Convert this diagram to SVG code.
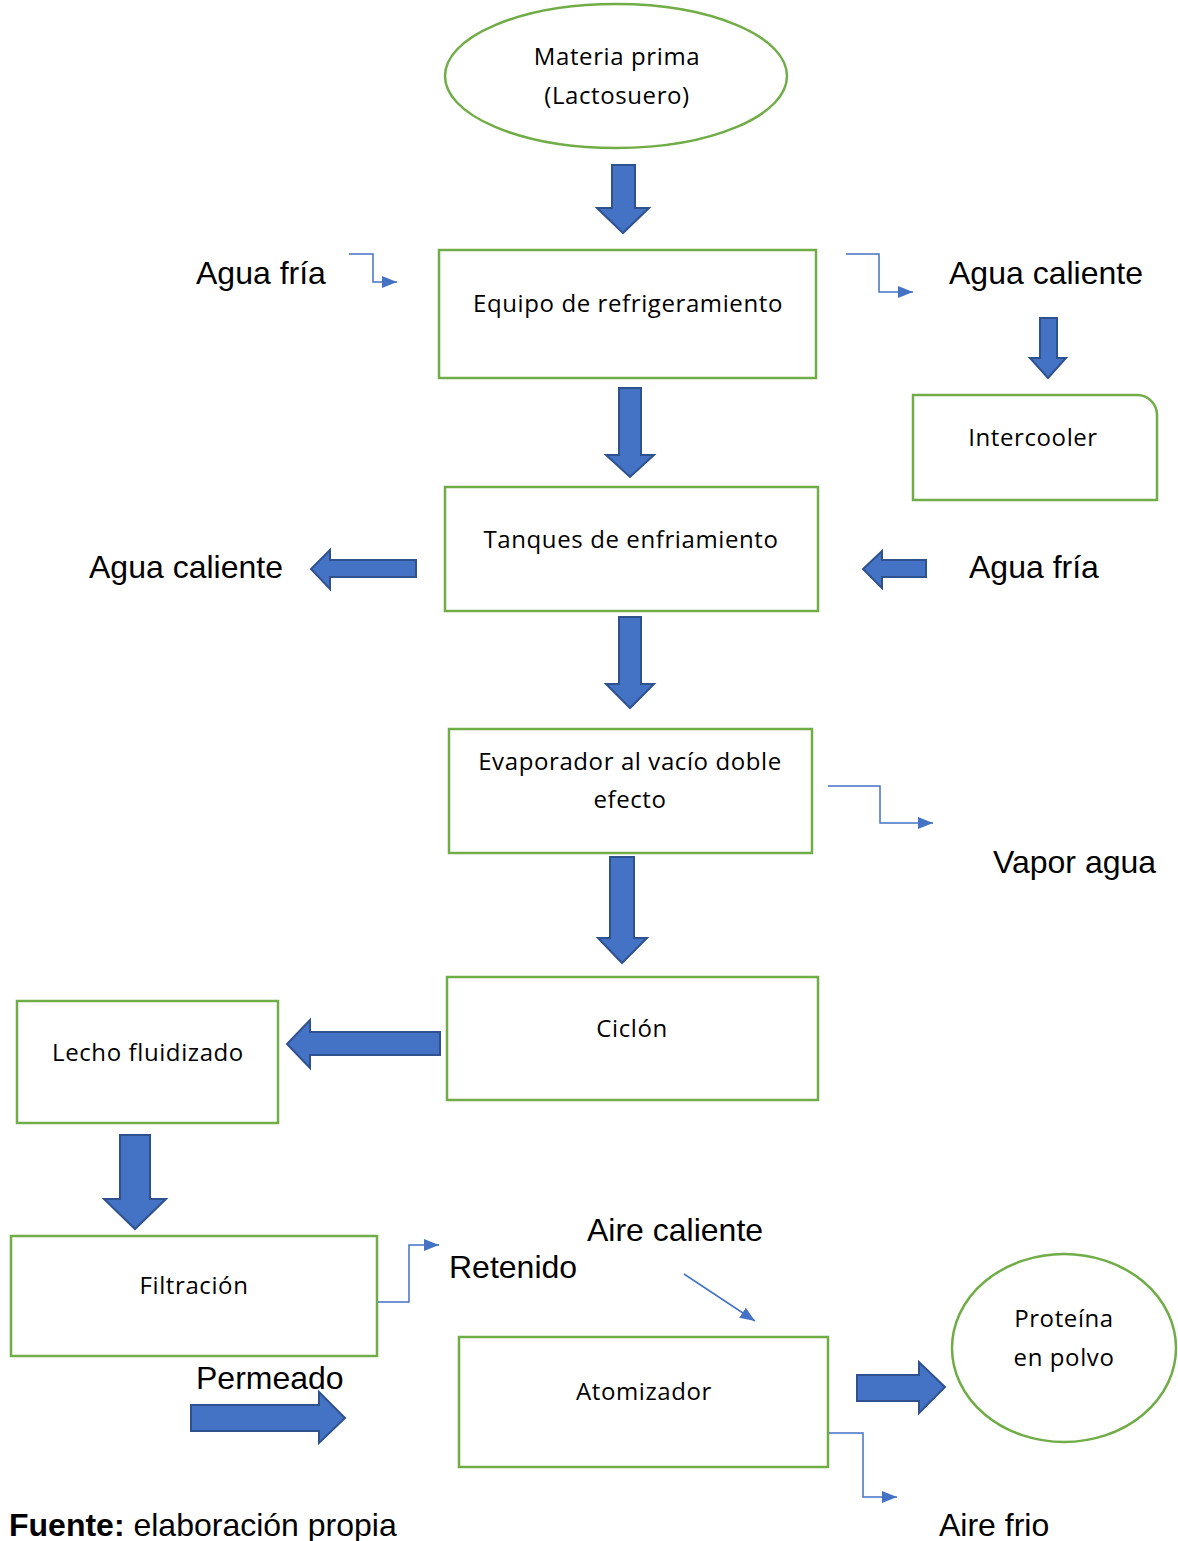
<svg xmlns="http://www.w3.org/2000/svg" width="1178" height="1541" viewBox="0 0 1178 1541">
  <style>
    .box { fill: #ffffff; stroke: #70ad47; stroke-width: 2.5; }
    .blk { fill: #4472c4; stroke: #2f528f; stroke-width: 2; stroke-linejoin: miter; }
    .ln { fill: none; stroke: #4472c4; stroke-width: 1.5; }
    .nt { font-family: "Open Sans", "Noto Sans", sans-serif; font-size: 24px; letter-spacing: 0.6px; fill: #000; text-anchor: middle; }
    .lb { font-family: "Liberation Sans", Arial, sans-serif; font-size: 32px; fill: #000; }
  </style>
  <defs>
    <marker id="tri" viewBox="0 0 15 12" refX="15" refY="6" markerWidth="15" markerHeight="12" markerUnits="userSpaceOnUse" orient="auto">
      <path d="M0,0 L15,6 L0,12 z" fill="#4472c4"/>
    </marker>
  </defs>

  <!-- process nodes -->
  <g id="materia-prima">
    <ellipse class="box" cx="616" cy="76" rx="171" ry="72"/>
    <text class="nt" x="617" y="65">Materia prima</text>
    <text class="nt" x="617" y="104">(Lactosuero)</text>
  </g>
  <g id="equipo-refrigeramiento">
    <rect class="box" x="439" y="250" width="377" height="128"/>
    <text class="nt" x="628" y="312">Equipo de refrigeramiento</text>
  </g>
  <g id="intercooler">
    <path class="box" d="M913,395 H1137 A20,20 0 0 1 1157,415 V500 H913 Z"/>
    <text class="nt" x="1033" y="446">Intercooler</text>
  </g>
  <g id="tanques-enfriamiento">
    <rect class="box" x="445" y="487" width="373" height="124"/>
    <text class="nt" x="631" y="548">Tanques de enfriamiento</text>
  </g>
  <g id="evaporador">
    <rect class="box" x="449" y="729" width="363" height="124"/>
    <text class="nt" x="630" y="770">Evaporador al vacío doble</text>
    <text class="nt" x="630" y="808">efecto</text>
  </g>
  <g id="ciclon">
    <rect class="box" x="447" y="977" width="371" height="123"/>
    <text class="nt" x="632" y="1037">Ciclón</text>
  </g>
  <g id="lecho-fluidizado">
    <rect class="box" x="17" y="1001" width="261" height="122"/>
    <text class="nt" x="148" y="1061">Lecho fluidizado</text>
  </g>
  <g id="filtracion">
    <rect class="box" x="11" y="1236" width="366" height="120"/>
    <text class="nt" x="194" y="1294">Filtración</text>
  </g>
  <g id="atomizador">
    <rect class="box" x="459" y="1337" width="369" height="130"/>
    <text class="nt" x="644" y="1400">Atomizador</text>
  </g>
  <g id="proteina-polvo">
    <ellipse class="box" cx="1064" cy="1348" rx="112" ry="94"/>
    <text class="nt" x="1064" y="1327">Proteína</text>
    <text class="nt" x="1064" y="1366">en polvo</text>
  </g>

  <!-- stream labels -->
  <g id="labels">
    <text class="lb" x="196" y="284">Agua fría</text>
    <text class="lb" x="949" y="284">Agua caliente</text>
    <text class="lb" x="89" y="578">Agua caliente</text>
    <text class="lb" x="969" y="578">Agua fría</text>
    <text class="lb" x="993" y="873">Vapor agua</text>
    <text class="lb" x="587" y="1241">Aire caliente</text>
    <text class="lb" x="449" y="1278">Retenido</text>
    <text class="lb" x="196" y="1389">Permeado</text>
    <text class="lb" x="939" y="1536">Aire frio</text>
    <text class="lb" x="9" y="1536"><tspan font-weight="bold">Fuente:</tspan> elaboración propia</text>
  </g>

  <!-- connectors -->
  <g id="connectors">
    <!-- block arrows -->
    <path class="blk" d="M612,165 H635 V208 H649 L623,233 L597,208 H612 Z"/>
    <path class="blk" d="M1040,318 H1057 V358 H1066 L1048,378 L1030,358 H1040 Z"/>
    <path class="blk" d="M619,388 H641 V455 H654 L630,477 L606,455 H619 Z"/>
    <path class="blk" d="M416,560 V577 H330 V589 L311,569 L330,550 V560 Z"/>
    <path class="blk" d="M926,560 V577 H882 V588 L863,569 L882,551 V560 Z"/>
    <path class="blk" d="M619,617 H641 V684 H654 L630,708 L606,684 H619 Z"/>
    <path class="blk" d="M610,857 H634 V938 H647 L622,963 L598,938 H610 Z"/>
    <path class="blk" d="M440,1032 V1055 H310 V1068 L287,1044 L310,1020 V1032 Z"/>
    <path class="blk" d="M120,1135 H150 V1199 H166 L135,1229 L104,1199 H120 Z"/>
    <path class="blk" d="M191,1405 H319 V1392 L345,1418 L319,1443 V1431 H191 Z"/>
    <path class="blk" d="M857,1375 H919 V1362 L945,1387 L919,1413 V1401 H857 Z"/>
    <!-- thin elbow connectors -->
    <path class="ln" marker-end="url(#tri)" d="M349,254 H373 V282 H397"/>
    <path class="ln" marker-end="url(#tri)" d="M846,254 H879 V292 H913"/>
    <path class="ln" marker-end="url(#tri)" d="M828,786 H880 V823 H933"/>
    <path class="ln" marker-end="url(#tri)" d="M378,1302 H409 V1245 H439"/>
    <path class="ln" marker-end="url(#tri)" d="M684,1274 L755,1321"/>
    <path class="ln" marker-end="url(#tri)" d="M829,1433 H863 V1497 H897"/>
  </g>
</svg>
